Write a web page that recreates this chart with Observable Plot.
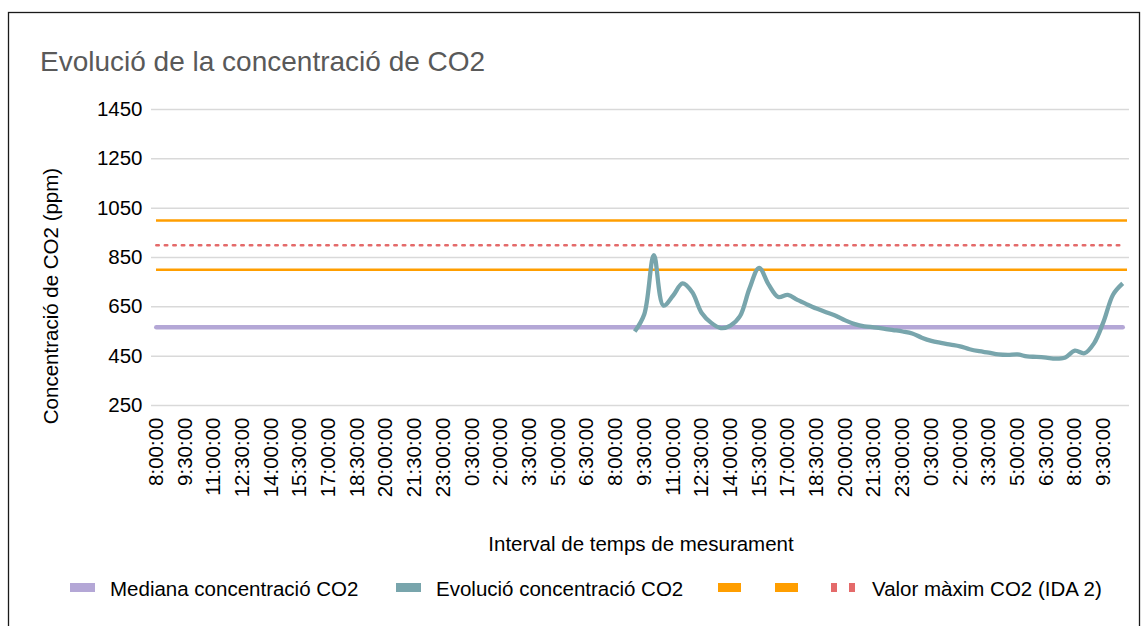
<!DOCTYPE html>
<html>
<head>
<meta charset="utf-8">
<script src="https://cdn.jsdelivr.net/npm/d3@7"></script>
<script src="https://cdn.jsdelivr.net/npm/@observablehq/plot@0.6"></script>
<style>
  html, body { margin: 0; padding: 0; background: #fff; }
  #wrap { position: relative; width: 1146px; height: 626px; overflow: hidden; font-family: "Liberation Sans", Arial, sans-serif; }
  #wrap > svg { position: absolute; left: 0; top: 0; }
</style>
</head>
<body>
<div id="wrap"></div>
<script>
// ---- Data ----
const titleText = "Evolució de la concentració de CO2";
const yAxisTitle = "Concentració de CO2 (ppm)";
const xAxisTitle = "Interval de temps de mesurament";

const day1Times = ["8:00:00","8:30:00","9:00:00","9:30:00","10:00:00","10:30:00","11:00:00","11:30:00","12:00:00","12:30:00","13:00:00","13:30:00","14:00:00","14:30:00","15:00:00","15:30:00","16:00:00","16:30:00","17:00:00","17:30:00","18:00:00","18:30:00","19:00:00","19:30:00","20:00:00","20:30:00","21:00:00","21:30:00","22:00:00","22:30:00","23:00:00","23:30:00"];
const day2Times = ["0:00:00","0:30:00","1:00:00","1:30:00","2:00:00","2:30:00","3:00:00","3:30:00","4:00:00","4:30:00","5:00:00","5:30:00","6:00:00","6:30:00","7:00:00","7:30:00","8:00:00","8:30:00","9:00:00","9:30:00","10:00:00","10:30:00","11:00:00","11:30:00","12:00:00","12:30:00","13:00:00","13:30:00","14:00:00","14:30:00","15:00:00","15:30:00","16:00:00","16:30:00","17:00:00","17:30:00","18:00:00","18:30:00","19:00:00","19:30:00","20:00:00","20:30:00","21:00:00","21:30:00","22:00:00","22:30:00","23:00:00","23:30:00"];
const day3Times = ["0:00:00","0:30:00","1:00:00","1:30:00","2:00:00","2:30:00","3:00:00","3:30:00","4:00:00","4:30:00","5:00:00","5:30:00","6:00:00","6:30:00","7:00:00","7:30:00","8:00:00","8:30:00","9:00:00","9:30:00","10:00:00","10:30:00"];
const categories = [...day1Times, ...day2Times, ...day3Times];

// measured CO2 (ppm), starting at category index 50 (9:00:00, day 2)
const co2Start = 50;
const co2Values = [550,620,860,655,695,745,710,625,585,564,
                   574,612,725,808,740,690,698,678,660,643,
                   628,614,595,580,571,567,562,556,550,542,
                   525,512,504,497,490,478,470,464,457,455,
                   457,449,447,444,440,445,472,462,502,590,
                   700,745];
const medianValue = 567;
const upperLimit = 1000;
const lowerLimit = 800;
const maxIDA2 = 900;

const yTicks = [250,450,650,850,1050,1250,1450];
const xTickEvery = 3;

const seriesNames = ["Mediana concentració CO2","Evolució concentració CO2","","","Valor màxim CO2 (IDA 2)"];

// ---- Build tables ----
const idx = categories.map((_, i) => i);
const xTicks = idx.filter(i => i % xTickEvery === 0);
const co2 = co2Values.map((v, k) => ({i: co2Start + k, v}));
const median = idx.map(i => ({i, v: medianValue}));
const ida2 = idx.map(i => ({i, v: maxIDA2}));

const C = {purple: "#b4a7d6", teal: "#78a5ac", orange: "#ff9e00", red: "#e46a6a", grid: "#d9d9d9"};
const FONT = "'Liberation Sans', Arial, sans-serif";

const chart = Plot.plot({
  width: 1146, height: 560,
  marginLeft: 151, marginRight: 19, marginTop: 109, marginBottom: 155,
  style: {fontFamily: FONT, fontSize: "20.5px", color: "#000", background: "transparent", overflow: "visible"},
  x: {type: "point", domain: idx, padding: 0.5},
  y: {domain: [250, 1450]},
  marks: [
    Plot.ruleY(yTicks, {stroke: C.grid, strokeWidth: 1.5, insetRight: -2}),
    Plot.axisY({ticks: yTicks, tickSize: 0, tickPadding: 9, label: null, tickFormat: d => String(d)}),
    Plot.axisX({ticks: xTicks, tickFormat: i => categories[i], tickSize: 0, tickPadding: 12, tickRotate: -90, label: null}),
    Plot.ruleY([upperLimit, lowerLimit], {stroke: C.orange, strokeWidth: 2.5, insetLeft: 5}),
    Plot.lineY(ida2, {x: "i", y: "v", stroke: C.red, strokeWidth: 2.5, strokeDasharray: "2.5,6"}),
    Plot.lineY(median, {x: "i", y: "v", stroke: C.purple, strokeWidth: 4.5}),
    Plot.lineY(co2, {x: "i", y: "v", stroke: C.teal, strokeWidth: 4.3, curve: "catmull-rom", strokeLinejoin: "round", strokeLinecap: "butt"})
  ]
});

const wrap = document.getElementById("wrap");
wrap.appendChild(chart);

// ---- Overlay: frame, title, axis titles, legend ----
const ov = d3.select(wrap).append("svg").attr("width", 1146).attr("height", 626)
  .style("font-family", FONT);
ov.append("rect").attr("x", 8.5).attr("y", 12.5).attr("width", 1131).attr("height", 700)
  .attr("fill", "none").attr("stroke", "#1a1a1a").attr("stroke-width", 1.3);
ov.append("text").attr("x", 40).attr("y", 71).attr("font-size", 28).attr("fill", "#595959").text(titleText);
ov.append("text").attr("transform", "translate(58,296) rotate(-90)").attr("text-anchor", "middle")
  .attr("font-size", 20.5).attr("fill", "#000").text(yAxisTitle);
ov.append("text").attr("x", 641).attr("y", 551).attr("text-anchor", "middle")
  .attr("font-size", 20.5).attr("fill", "#000").text(xAxisTitle);

const lg = ov.append("g");
const sy = 583, sh = 9, ty = 596;
lg.append("rect").attr("x", 70).attr("y", sy).attr("width", 25).attr("height", sh).attr("fill", C.purple);
lg.append("text").attr("x", 110).attr("y", ty).attr("font-size", 20.5).text(seriesNames[0]);
lg.append("rect").attr("x", 396).attr("y", sy).attr("width", 25).attr("height", sh).attr("fill", C.teal);
lg.append("text").attr("x", 436).attr("y", ty).attr("font-size", 20.5).text(seriesNames[1]);
lg.append("rect").attr("x", 718).attr("y", sy).attr("width", 23).attr("height", sh).attr("fill", C.orange);
lg.append("rect").attr("x", 775).attr("y", sy).attr("width", 23).attr("height", sh).attr("fill", C.orange);
lg.append("rect").attr("x", 831).attr("y", sy).attr("width", 6).attr("height", sh).attr("fill", C.red);
lg.append("rect").attr("x", 849).attr("y", sy).attr("width", 6).attr("height", sh).attr("fill", C.red);
lg.append("text").attr("x", 872).attr("y", ty).attr("font-size", 20.5).text(seriesNames[4]);
</script>
</body>
</html>
